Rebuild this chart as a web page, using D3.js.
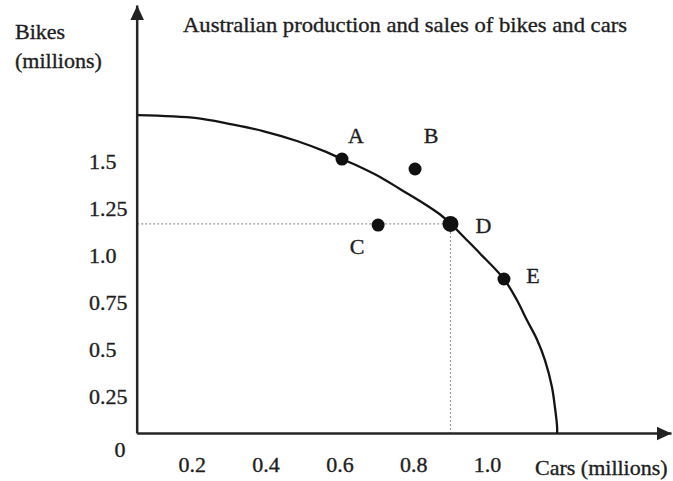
<!DOCTYPE html>
<html>
<head>
<meta charset="utf-8">
<script src="https://cdn.jsdelivr.net/npm/d3@7"></script>
<style>
  body { margin: 0; background: #fff; }
  text { font-family: "Liberation Serif", "Times New Roman", serif; fill: #1e1e1e; stroke: #1e1e1e; stroke-width: 0.35px; }
</style>
</head>
<body>
<script>
// production possibility frontier (cars, bikes in millions)
const frontierCars  = [0.053, 0.214, 0.304, 0.393, 0.485, 0.564, 0.607, 0.656, 0.710, 0.764, 0.818, 0.873, 0.902, 0.940, 0.981, 1.046, 1.081, 1.108, 1.136, 1.157, 1.176, 1.184, 1.190, 1.190];
const frontierBikes = [1.747, 1.731, 1.699, 1.662, 1.609, 1.551, 1.513, 1.471, 1.418, 1.354, 1.290, 1.218, 1.168, 1.093, 1.011, 0.875, 0.763, 0.657, 0.551, 0.444, 0.301, 0.194, 0.088, 0.053];

const pointNames = ["A", "B", "C", "D", "E"];
const pointCars  = [0.607, 0.805, 0.705, 0.901, 1.046];
const pointBikes = [1.513, 1.460, 1.162, 1.168, 0.875];

const xTicks = [0.2, 0.4, 0.6, 0.8, 1.0];
const xTickLabels = ["0.2", "0.4", "0.6", "0.8", "1.0"];
const yTicks = [0.25, 0.5, 0.75, 1.0, 1.25, 1.5];
const yTickLabels = ["0.25", "0.5", "0.75", "1.0", "1.25", "1.5"];

// where the drawn axes cross and where their arrows end (in data units)
const axisX = 0.052, axisY = 0.053, xEnd = 1.50, yEnd = 2.33;

const W = 673, H = 481;
const x = d3.scaleLinear().domain([0, 1]).range([118, 487]);
const y = d3.scaleLinear().domain([0, 1]).range([443.5, 255.5]);

const svg = d3.select("body").append("svg")
    .attr("width", W)
    .attr("height", H);

svg.append("defs").append("marker")
    .attr("id", "arrow")
    .attr("markerUnits", "userSpaceOnUse")
    .attr("viewBox", "0 0 15 14")
    .attr("refX", 15).attr("refY", 7)
    .attr("markerWidth", 15).attr("markerHeight", 14)
    .attr("orient", "auto")
    .append("path")
    .attr("d", "M0,0 L15,7 L0,14 Z")
    .attr("fill", "#222");

// dotted guides through D
const dIdx = pointNames.indexOf("D");
svg.append("line")
    .attr("x1", x(axisX)).attr("x2", x(pointCars[dIdx]))
    .attr("y1", y(pointBikes[dIdx])).attr("y2", y(pointBikes[dIdx]))
    .attr("stroke", "#9a9a9a").attr("stroke-width", 1.2)
    .attr("stroke-dasharray", "2,2");
svg.append("line")
    .attr("x1", x(pointCars[dIdx])).attr("x2", x(pointCars[dIdx]))
    .attr("y1", y(pointBikes[dIdx])).attr("y2", y(axisY))
    .attr("stroke", "#9a9a9a").attr("stroke-width", 1.2)
    .attr("stroke-dasharray", "2,2");

// axes
svg.append("line")
    .attr("x1", x(axisX)).attr("y1", y(axisY))
    .attr("x2", x(axisX)).attr("y2", y(yEnd))
    .attr("stroke", "#262626").attr("stroke-width", 2.5)
    .attr("marker-end", "url(#arrow)");
svg.append("line")
    .attr("x1", x(axisX)).attr("y1", y(axisY))
    .attr("x2", x(xEnd)).attr("y2", y(axisY))
    .attr("stroke", "#262626").attr("stroke-width", 2.5)
    .attr("marker-end", "url(#arrow)");

const gx = svg.append("g")
    .attr("transform", "translate(0," + y(axisY) + ")")
    .call(d3.axisBottom(x).tickValues(xTicks).tickSize(0).tickPadding(23)
        .tickFormat((d, i) => xTickLabels[i]));
gx.select(".domain").remove();
gx.selectAll("text").style("font-size", "22px").attr("fill", "#1e1e1e");

const gy = svg.append("g")
    .attr("transform", "translate(89,0)")
    .call(d3.axisLeft(y).tickValues(yTicks).tickSize(0).tickPadding(0)
        .tickFormat((d, i) => yTickLabels[i]));
gy.select(".domain").remove();
gy.selectAll("text")
    .attr("text-anchor", "start")
    .attr("x", 0)
    .style("font-size", "22px").attr("fill", "#1e1e1e");

svg.append("text")
    .attr("x", x(0) + 2).attr("y", y(0) + 13.5)
    .attr("text-anchor", "middle")
    .style("font-size", "22px")
    .text("0");

// frontier
const line = d3.line()
    .x(i => x(frontierCars[i]))
    .y(i => y(frontierBikes[i]))
    .curve(d3.curveCatmullRom.alpha(0.5));
svg.append("path")
    .attr("d", line(d3.range(frontierCars.length)))
    .attr("fill", "none")
    .attr("stroke", "#141414")
    .attr("stroke-width", 2.3);

// points and their letters
const labelOffset = {A: [14, -16], B: [16, -26], C: [-21, 29], D: [33, 9], E: [29, 4]};
const pointRadius = {A: 6.5, B: 6.5, C: 6.5, D: 8, E: 6.5};

svg.selectAll("circle.pt")
    .data(pointNames)
    .enter()
    .append("circle")
    .attr("class", "pt")
    .attr("cx", (d, i) => x(pointCars[i]))
    .attr("cy", (d, i) => y(pointBikes[i]))
    .attr("r", d => pointRadius[d])
    .attr("fill", "#111");

svg.selectAll("text.pt")
    .data(pointNames)
    .enter()
    .append("text")
    .attr("class", "pt")
    .attr("text-anchor", "middle")
    .attr("x", (d, i) => x(pointCars[i]) + labelOffset[d][0])
    .attr("y", (d, i) => y(pointBikes[i]) + labelOffset[d][1])
    .style("font-size", "22px")
    .text(d => d);

// titles
svg.append("text")
    .attr("x", 183).attr("y", 32)
    .attr("textLength", 444)
    .attr("lengthAdjust", "spacingAndGlyphs")
    .style("font-size", "22px")
    .text("Australian production and sales of bikes and cars");

svg.append("text")
    .attr("x", 15).attr("y", 39)
    .style("font-size", "22px")
    .text("Bikes");
svg.append("text")
    .attr("x", 15).attr("y", 68)
    .style("font-size", "22px")
    .text("(millions)");

svg.append("text")
    .attr("x", 535).attr("y", 475)
    .style("font-size", "22px")
    .text("Cars (millions)");
</script>
</body>
</html>
